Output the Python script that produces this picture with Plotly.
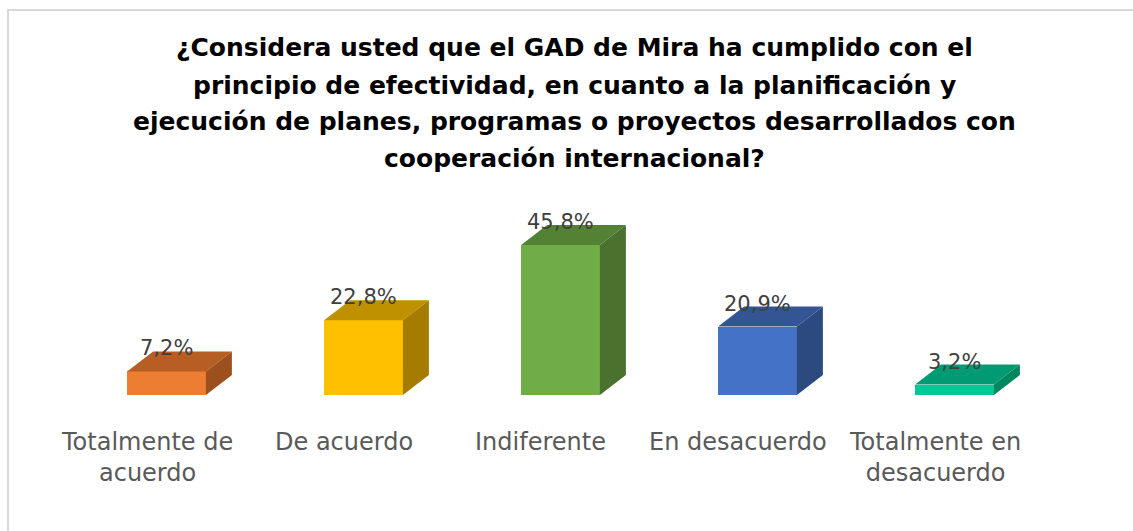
import plotly.graph_objects as go

# ---- data ----
categories = ["Totalmente de<br>acuerdo", "De acuerdo", "Indiferente", "En desacuerdo", "Totalmente en<br>desacuerdo"]
values = [7.2, 22.8, 45.8, 20.9, 3.2]
value_labels = ["7,2%", "22,8%", "45,8%", "20,9%", "3,2%"]
title_lines = [
    "¿Considera usted que el GAD de Mira ha cumplido con el",
    "principio de efectividad, en cuanto a la planificación y",
    "ejecución de planes, programas o proyectos desarrollados con",
    "cooperación internacional?",
]

# ---- styles ----
front_colors = ["#ED7D31", "#FFC000", "#70AD47", "#4472C4", "#00C896"]
top_colors = ["#B65E24", "#BF9000", "#548235", "#335594", "#009B73"]
side_colors = ["#9C501D", "#A67C00", "#4A712D", "#2C4A80", "#00875F"]

W, H = 1133, 531
bottom_margin = 136
plot_h = H - bottom_margin
px_per_unit_x = 197.0
px_per_unit_y = 3.275
x0_px = 166.5
bar_w = 0.40
ddx = 26 / px_per_unit_x
ddy = 20 / px_per_unit_y

x_range = [-x0_px / px_per_unit_x, (W - x0_px) / px_per_unit_x]
y_range = [0, plot_h / px_per_unit_y]

fig = go.Figure()
xs = list(range(len(categories)))

fig.add_trace(go.Bar(
    x=xs, y=values, width=bar_w,
    marker=dict(color=front_colors, line=dict(width=0)),
    hoverinfo="skip", showlegend=False,
))

for i, v in enumerate(values):
    l, r = i - bar_w / 2, i + bar_w / 2
    # top face
    fig.add_trace(go.Scatter(
        x=[l, r, r + ddx, l + ddx, l], y=[v, v, v + ddy, v + ddy, v],
        fill="toself", fillcolor=top_colors[i], mode="lines",
        line=dict(width=0, color=top_colors[i]),
        hoverinfo="skip", showlegend=False,
    ))
    # side face
    fig.add_trace(go.Scatter(
        x=[r, r + ddx, r + ddx, r, r], y=[0, ddy, v + ddy, v, 0],
        fill="toself", fillcolor=side_colors[i], mode="lines",
        line=dict(width=0, color=side_colors[i]),
        hoverinfo="skip", showlegend=False,
    ))

annotations = []
for i, v in enumerate(values):
    annotations.append(dict(
        x=i, y=v + ddy, xref="x", yref="y", text=value_labels[i],
        showarrow=False, yanchor="middle", yshift=3,
        font=dict(family="DejaVu Sans", size=21, color="#404040"),
    ))
    annotations.append(dict(
        x=i, y=0, xref="x", yref="y", text=categories[i],
        showarrow=False, yanchor="top", yshift=-31, xshift=-20,
        font=dict(family="DejaVu Sans", size=24, color="#595959"),
    ))

title_y_px = [48, 85, 122, 158]
for line, py in zip(title_lines, title_y_px):
    annotations.append(dict(
        x=574 / W, y=1 - py / plot_h, xref="paper", yref="paper",
        text="<b>" + line + "</b>", showarrow=False,
        xanchor="center", yanchor="middle",
        font=dict(family="DejaVu Sans", size=25, color="#000000"),
    ))

fig.update_layout(
    width=W, height=H,
    margin=dict(l=0, r=0, t=0, b=bottom_margin),
    paper_bgcolor="white", plot_bgcolor="white",
    xaxis=dict(range=x_range, visible=False, fixedrange=True),
    yaxis=dict(range=y_range, visible=False, fixedrange=True),
    annotations=annotations,
    shapes=[dict(
        type="rect", xref="paper", yref="paper",
        x0=8 / W, x1=1.05, y0=-0.6, y1=1 - 10 / plot_h,
        line=dict(color="#D9D9D9", width=2), fillcolor="rgba(0,0,0,0)",
        layer="below",
    )],
    bargap=0,
)

fig.write_html("out.html", config={"displayModeBar": False},
               post_script="document.body.style.margin='0';")
